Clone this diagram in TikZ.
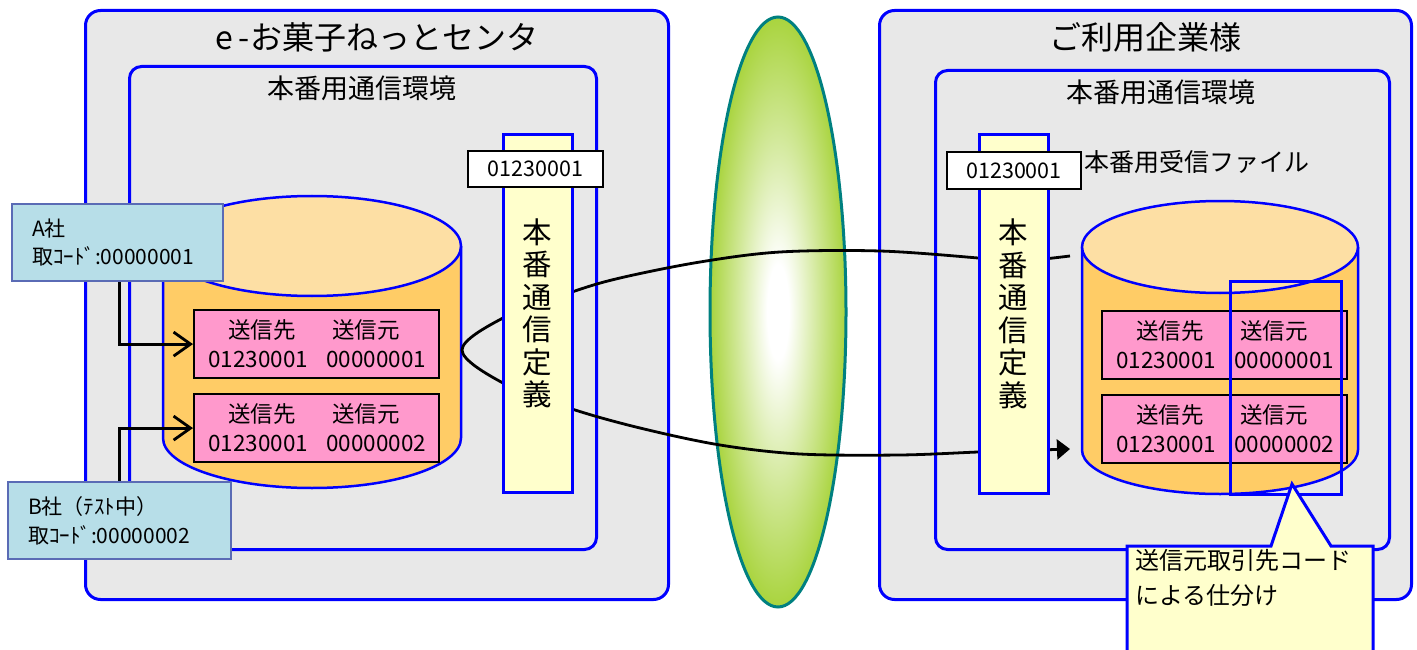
\documentclass[tikz,border=0pt]{standalone}
\usepackage{fontspec}
\setmainfont{Noto Sans CJK JP}
\usetikzlibrary{shapes.geometric,arrows.meta}
\definecolor{boxgray}{HTML}{E8E8E8}
\definecolor{bblue}{HTML}{0000FF}
\definecolor{cyltop}{HTML}{FDDFA4}
\definecolor{cylbody}{HTML}{FFCC66}
\definecolor{recpink}{HTML}{FF99CC}
\definecolor{compfill}{HTML}{B7DEE8}
\definecolor{compline}{HTML}{5A6BB5}
\definecolor{barfill}{HTML}{FFFFCC}
\definecolor{ygreen}{HTML}{99CC1A}
\definecolor{tealline}{HTML}{008080}
\pgfdeclareradialshading{netshade}{\pgfpoint{0bp}{0bp}}{%
  color(0bp)=(white); color(4bp)=(white); color(15bp)=(ygreen!45!white);
  color(29bp)=(ygreen); color(50bp)=(ygreen)}
\newcommand\fsz[2]{\fontsize{#1}{#2}\selectfont}
\newcommand\mkrecord[4]{%
  \node[recbox] (#1) at (#2,#3) {};
  \node[rectext] at ([shift={(35,21)}]#1.north west) {送信先};
  \node[rectext] at ([shift={(139,21)}]#1.north west) {送信元};
  \node[rectext] at ([shift={(15,50)}]#1.north west) {01230001};
  \node[rectext] at ([shift={(133,50)}]#1.north west) {#4};
}
\begin{document}
\begin{tikzpicture}[x=1pt,y=-1pt,
  outerbox/.style={draw=bblue, line width=3pt, fill=boxgray, rounded corners=15pt, inner sep=0, anchor=north west},
  innerbox/.style={draw=bblue, line width=3pt, fill=boxgray, rounded corners=12pt, inner sep=0, anchor=north west},
  titletext/.style={font=\fsz{32}{32}, inner sep=0},
  envtext/.style={font=\fsz{27}{27}, inner sep=0},
  cyl/.style={draw=bblue, line width=2.5pt},
  recbox/.style={draw=black, line width=2.2pt, fill=recpink, anchor=north west, minimum width=245pt, minimum height=68pt, inner sep=0},
  rectext/.style={font=\fsz{22.5}{22.5}, inner sep=0, anchor=west},
  compbox/.style={draw=compline, line width=2.2pt, fill=compfill, inner sep=0, inner xsep=20pt, align=left, font=\fsz{21}{28.5}, anchor=north west, minimum height=77pt},
  barbox/.style={draw=bblue, line width=3pt, fill=barfill, minimum width=69pt, minimum height=358pt, inner sep=0, align=center, font=\fsz{29.5}{32.5}},
  numbox/.style={draw=black, line width=2.2pt, fill=white, inner sep=0, font=\fsz{21.5}{21.5}},
  feed/.style={line width=2.8pt, -{Straight Barb[length=17pt, width=24pt, line width=2.8pt]}},
  conn/.style={line width=2.8pt}
]
\useasboundingbox (0,0) rectangle (1417,650);

% outer and inner frames
\node[outerbox, minimum width=583pt, minimum height=589pt] (leftouter) at (84,9) {};
\node[outerbox, minimum width=532pt, minimum height=589pt] (rightouter) at (878,9) {};
\node[titletext] (lefttitle) at (377,37) {e\,-お菓子ねっとセンタ};
\node[titletext] (righttitle) at (1145,37) {ご利用企業様};
\node[innerbox, minimum width=467pt, minimum height=483pt] (leftinner) at (128,65) {};
\node[innerbox, minimum width=454pt, minimum height=479pt] (rightinner) at (934,69) {};
\node[envtext] (leftenv) at (362,88) {本番用通信環境};
\node[envtext] (rightenv) at (1161,92) {本番用通信環境};

% left cylinder
\filldraw[cyl, fill=cylbody] (163,246) -- (163,438) arc[start angle=180, end angle=0, x radius=149, y radius=50] -- (461,246);
\filldraw[cyl, fill=cyltop] (312,246) ellipse [x radius=149, y radius=50];
% right cylinder
\filldraw[cyl, fill=cylbody] (1082,247) -- (1082,450) arc[start angle=180, end angle=0, x radius=138, y radius=44] -- (1358,247);
\filldraw[cyl, fill=cyltop] (1220,247) ellipse [x radius=138, y radius=46];

% records
\mkrecord{recA1}{193}{309}{00000001}
\mkrecord{recA2}{193}{393}{00000002}
\mkrecord{recB1}{1101}{310}{00000001}
\mkrecord{recB2}{1101}{394}{00000002}

% company boxes
\node[compbox, text width=171pt] (compA) at (11,203) {A社\\取ｺｰﾄﾞ:00000001};
\node[compbox, text width=183pt] (compB) at (7,481) {B社（ﾃｽﾄ中）\\取ｺｰﾄﾞ:00000002};
\draw[feed] ([xshift=1.5pt]compA.south) |- (recA1.west);
\draw[feed] ([xshift=-0.5pt]compB.north) |- (recA2.west);

% network ellipse
\node[ellipse, draw=tealline, line width=3pt, shade, shading=netshade, minimum width=136pt, minimum height=590pt, inner sep=0] (net) at (778,312) {};

% transmission curve
\coordinate (cstart) at (1070,256);
\coordinate (cend) at (1070,449);
\draw[conn, -{Triangle[length=13pt, width=20pt]}] plot[smooth, tension=0.55] coordinates {
  (cstart) (1010,262) (978,258) (880,251) (780,252) (700,262) (620,278) (572,292)
  (503,318) (462,350) (503,383) (572,409) (640,428) (720,445) (800,454)
  (900,455) (978,452) (1010,451) (cend)};

% definition bars
\node[barbox] (barL) at (537.5,313.5) {本\\番\\通\\信\\定\\義};
\node[barbox] (barR) at (1013.5,314) {本\\番\\通\\信\\定\\義};
\node[numbox, minimum width=135pt, minimum height=36pt] (numL) at (535.5,169) {01230001};
\node[numbox, minimum width=134pt, minimum height=37pt] (numR) at (1014,170.5) {01230001};
\node[font=\fsz{25}{25}, inner sep=0, anchor=west] (recvfile) at (1084,162) {本番用受信ファイル};

% highlight of sender column
\node[draw=bblue, line width=3pt, minimum width=111pt, minimum height=213pt, inner sep=0, anchor=north west] (hl) at (1229,280) {};

% callout
\filldraw[draw=bblue, line width=3pt, fill=barfill] (1127,546) -- (1271,546) -- (1292,484) -- (1331,546) -- (1373,546) -- (1373,665) -- (1127,665) -- cycle;
\node[font=\fsz{24}{35}, inner sep=0, anchor=north west, align=left] (note) at (1135,549) {送信元取引先コード\\による仕分け};
\end{tikzpicture}
\end{document}
